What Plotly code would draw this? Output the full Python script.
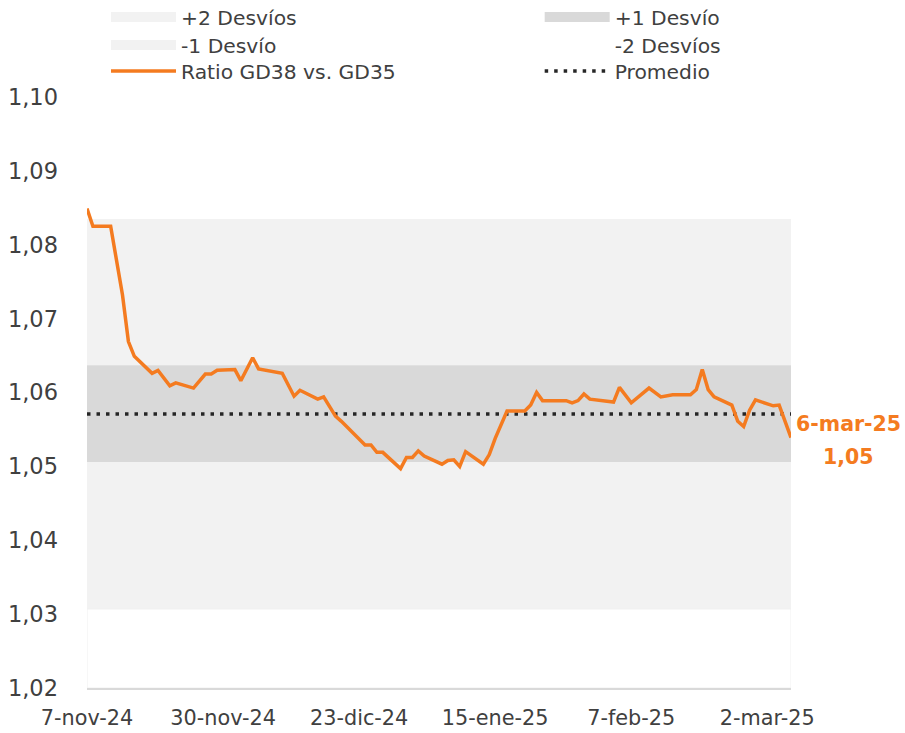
import plotly.graph_objects as go

# ---------------- data ----------------
dates = [
    "2024-11-07", "2024-11-08", "2024-11-11", "2024-11-12", "2024-11-13", "2024-11-14",
    "2024-11-15", "2024-11-18", "2024-11-19", "2024-11-21", "2024-11-22", "2024-11-25",
    "2024-11-27", "2024-11-28", "2024-11-29", "2024-12-02", "2024-12-03", "2024-12-05",
    "2024-12-06", "2024-12-10", "2024-12-12", "2024-12-13", "2024-12-16", "2024-12-17",
    "2024-12-19", "2024-12-20", "2024-12-24", "2024-12-25", "2024-12-26", "2024-12-27",
    "2024-12-30", "2024-12-31", "2025-01-01", "2025-01-02", "2025-01-03", "2025-01-06",
    "2025-01-07", "2025-01-08", "2025-01-09", "2025-01-10", "2025-01-13", "2025-01-14",
    "2025-01-15", "2025-01-17", "2025-01-20", "2025-01-21", "2025-01-22", "2025-01-23",
    "2025-01-27", "2025-01-28", "2025-01-29", "2025-01-30", "2025-01-31", "2025-02-04",
    "2025-02-05", "2025-02-07", "2025-02-10", "2025-02-12", "2025-02-14", "2025-02-17",
    "2025-02-18", "2025-02-19", "2025-02-20", "2025-02-21", "2025-02-24", "2025-02-25",
    "2025-02-26", "2025-02-27", "2025-02-28", "2025-03-03", "2025-03-04", "2025-03-06",
]
ratio = [
    1.0849, 1.0825, 1.0825, 1.0777, 1.0732, 1.0669,
    1.0649, 1.0626, 1.0630, 1.0609, 1.0613, 1.0606,
    1.0625, 1.0625, 1.0630, 1.0631, 1.0616, 1.0647,
    1.0632, 1.0626, 1.0595, 1.0603, 1.0591, 1.0594,
    1.0568, 1.0561, 1.0529, 1.0529, 1.0519, 1.0519,
    1.0497, 1.0512, 1.0512, 1.0521, 1.0514, 1.0503,
    1.0508, 1.0509, 1.0500, 1.0520, 1.0503, 1.0516,
    1.0538, 1.0575, 1.0575, 1.0583, 1.0600, 1.0589,
    1.0589, 1.0586, 1.0589, 1.0598, 1.0591, 1.0587,
    1.0607, 1.0586, 1.0606, 1.0594, 1.0597, 1.0597,
    1.0604, 1.0631, 1.0604, 1.0594, 1.0583, 1.0561,
    1.0554, 1.0576, 1.0590, 1.0582, 1.0583, 1.0539,
]

x_start = "2024-11-07"
x_end = "2025-03-06"

promedio = 1.0571
band_names = ["+2 Desvíos", "+1 Desvío", "-1 Desvío", "-2 Desvíos"]
band_low = [1.0637, 1.0506, 1.0307, 1.0200]
band_high = [1.0835, 1.0637, 1.0506, 1.0307]
band_colors = ["#F2F2F2", "#D9D9D9", "#F2F2F2", "#FFFFFF"]
band_lines = ["#F2F2F2", "#D9D9D9", "#F2F2F2", "#F0F0F0"]
band_legend = ["legend", "legend2", "legend3", "legend4"]

tick_dates = ["2024-11-07", "2024-11-30", "2024-12-23", "2025-01-15", "2025-02-07", "2025-03-02"]
tick_labels = ["7-nov-24", "30-nov-24", "23-dic-24", "15-ene-25", "7-feb-25", "2-mar-25"]
y_ticks = [1.02, 1.03, 1.04, 1.05, 1.06, 1.07, 1.08, 1.09, 1.10]

ORANGE = "#F47B20"
FONT = "DejaVu Sans, Liberation Sans, sans-serif"
TXT = "#404040"

fig = go.Figure()

# shaded bands (drawn on the axes), with legend entries shown as wide swatches
for nm, lo, hi, fc, lc, lg in zip(band_names, band_low, band_high,
                                   band_colors, band_lines, band_legend):
    fig.add_trace(go.Scatter(
        x=[x_start, x_end, x_end, x_start, x_start],
        y=[lo, lo, hi, hi, lo],
        fill="toself", fillcolor=fc, mode="lines",
        line=dict(color=lc, width=1 if fc == "#FFFFFF" else 0),
        name=nm, showlegend=False, hoverinfo="skip",
    ))
    fig.add_trace(go.Scatter(
        x=[None], y=[None], mode="lines",
        line=dict(color=fc, width=10),
        name=nm, legend=lg, showlegend=True,
    ))

fig.add_trace(go.Scatter(
    x=[x_start, x_end], y=[promedio, promedio], mode="lines",
    line=dict(color="#262626", width=3.5, dash="3.5px,6px"),
    name="Promedio", legend="legend6",
))

fig.add_trace(go.Scatter(
    x=dates, y=ratio, mode="lines",
    line=dict(color=ORANGE, width=3.5),
    name="Ratio GD38 vs. GD35", legend="legend5",
))

last_label = f"{ratio[-1]:.2f}".replace(".", ",")
fig.add_annotation(x=dates[-1], y=1.0558, text="<b>6-mar-25</b>", showarrow=False,
                   xanchor="center", xshift=57, font=dict(size=20.5, color=ORANGE, family=FONT))
fig.add_annotation(x=dates[-1], y=1.0513, text=f"<b>{last_label}</b>", showarrow=False,
                   xanchor="center", xshift=57, font=dict(size=20.5, color=ORANGE, family=FONT))

leg_common = dict(
    orientation="v", xanchor="left", yanchor="top", yref="paper",
    itemwidth=65, traceorder="normal",
    font=dict(size=20.3, color=TXT, family=FONT), bgcolor="rgba(0,0,0,0)",
)
col_x = [0.027, 0.643]
row_y = [1.1685, 1.1212, 1.0772]

fig.update_layout(
    width=905, height=733,
    margin=dict(l=87, r=114, t=97, b=45, autoexpand=False),
    paper_bgcolor="white", plot_bgcolor="white",
    separators=",.",
    font=dict(family=FONT, size=20, color=TXT),
    showlegend=True,
    legend=dict(x=col_x[0], y=row_y[0], **leg_common),
    legend2=dict(x=col_x[1], y=row_y[0], **leg_common),
    legend3=dict(x=col_x[0], y=row_y[1], **leg_common),
    legend4=dict(x=col_x[1], y=row_y[1], **leg_common),
    legend5=dict(x=col_x[0], y=row_y[2], **leg_common),
    legend6=dict(x=col_x[1], y=row_y[2], **leg_common),
    xaxis=dict(
        type="date", range=[x_start, x_end],
        tickvals=tick_dates, ticktext=tick_labels,
        showgrid=False, zeroline=False,
        showline=True, linecolor="#D9D9D9", linewidth=1.5,
        ticks="", ticklabelstandoff=10,
        tickfont=dict(size=20.8, color=TXT),
    ),
    yaxis=dict(
        range=[1.02, 1.10], tickvals=y_ticks, tickformat=".2f",
        showgrid=False, zeroline=False, showline=False,
        ticks="", ticklabelstandoff=28,
        tickfont=dict(size=22.5, color=TXT),
    ),
)

fig.write_html("out.html", config={"displayModeBar": False},
               post_script="document.body.style.margin='0';document.body.style.padding='0';")
